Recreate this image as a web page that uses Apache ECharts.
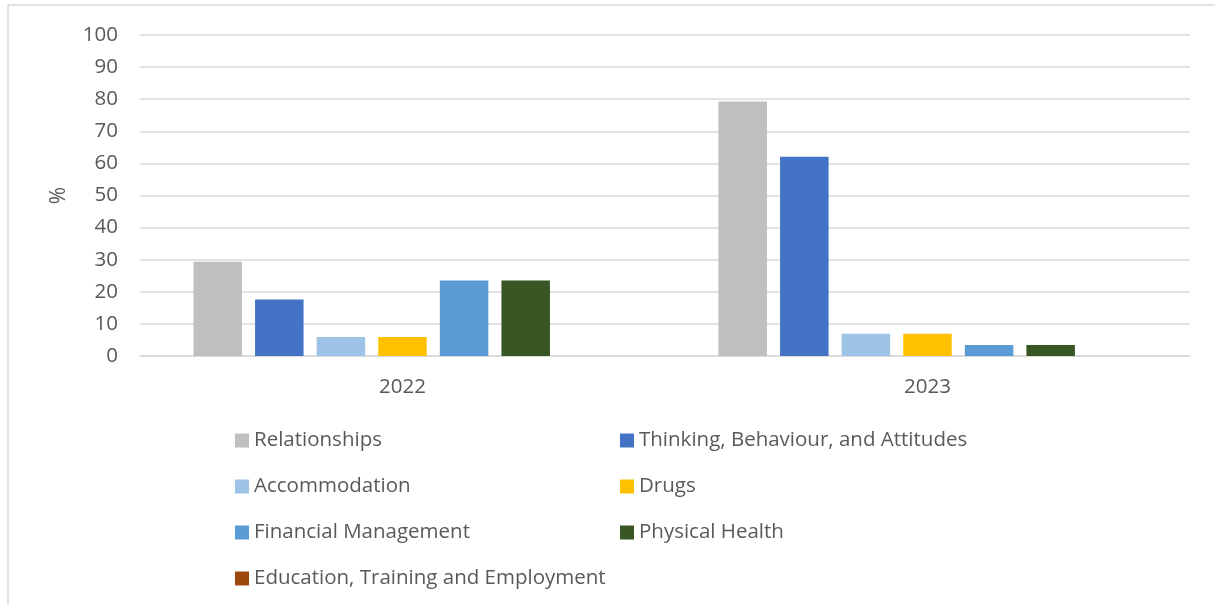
<!DOCTYPE html>
<html>
<head>
<meta charset="utf-8">
<script src="https://cdn.jsdelivr.net/npm/echarts@6/dist/echarts.min.js"></script>
<style>
  html, body { margin: 0; padding: 0; background: #ffffff; }
  #chart { width: 1215px; height: 605px; }
</style>
</head>
<body>
<div id="chart"></div>
<script>
// Years on the category axis
const years = ['2022', '2023'];

// Share of responses (%) per support area
const relationships = [29.4, 79.3];
const thinking = [17.6, 62.1];
const accommodation = [5.9, 6.9];
const drugs = [5.9, 6.9];
const financial = [23.5, 3.4];
const physicalHealth = [23.5, 3.4];
const education = [0, 0];

const seriesNames = [
  'Relationships',
  'Thinking, Behaviour, and Attitudes',
  'Accommodation',
  'Drugs',
  'Financial Management',
  'Physical Health',
  'Education, Training and Employment'
];
const seriesValues = [relationships, thinking, accommodation, drugs, financial, physicalHealth, education];
const seriesColors = ['#BFBFBF', '#4472C4', '#9DC3E6', '#FFC000', '#5B9BD5', '#375623', '#9E480E'];

// Value axis ticks
const yMin = 0, yMax = 100, yStep = 10;

const FONT = 'Open Sans';
const TEXT = '#595959';
const FS = 20.5;

const chart = echarts.init(document.getElementById('chart'), null, { renderer: 'canvas' });

const legendBase = {
  orient: 'vertical',
  padding: 0,
  itemWidth: 14,
  itemHeight: 14,
  itemGap: 25,
  icon: 'rect',
  selectedMode: false,
  textStyle: { color: TEXT, fontFamily: FONT, fontSize: FS, lineHeight: 20.5 }
};

chart.setOption({
  animation: false,
  backgroundColor: '#ffffff',
  color: seriesColors,
  graphic: [{
    type: 'rect',
    shape: { x: 8, y: 5, width: 1400, height: 800 },
    style: { fill: 'none', stroke: '#d9d9d9', lineWidth: 1.5 },
    silent: true
  }],
  grid: { left: 140, right: 25, top: 35, bottom: 249, containLabel: false },
  legend: [
    Object.assign({}, legendBase, {
      left: 235, top: 430,
      data: [seriesNames[0], seriesNames[2], seriesNames[4], seriesNames[6]]
    }),
    Object.assign({}, legendBase, {
      left: 620, top: 430,
      data: [seriesNames[1], seriesNames[3], seriesNames[5]]
    })
  ],
  xAxis: {
    type: 'category',
    data: years,
    axisLine: { lineStyle: { color: '#d9d9d9', width: 1.5 } },
    axisTick: { show: false },
    axisLabel: { color: TEXT, fontFamily: FONT, fontSize: FS, margin: 21 }
  },
  yAxis: {
    type: 'value',
    min: yMin, max: yMax, interval: yStep,
    name: '%',
    nameLocation: 'middle',
    nameGap: 70,
    nameRotate: 90,
    nameTextStyle: { color: TEXT, fontFamily: FONT, fontSize: 21 },
    axisLine: { show: false },
    axisTick: { show: false },
    axisLabel: { color: TEXT, fontFamily: FONT, fontSize: FS, margin: 22 },
    splitLine: { lineStyle: { color: '#d9d9d9', width: 1.5 } }
  },
  series: seriesNames.map((name, i) => ({
    name,
    type: 'bar',
    data: seriesValues[i],
    barWidth: 48.5,
    barGap: '27%',
    itemStyle: { color: seriesColors[i] }
  }))
});
</script>
</body>
</html>
